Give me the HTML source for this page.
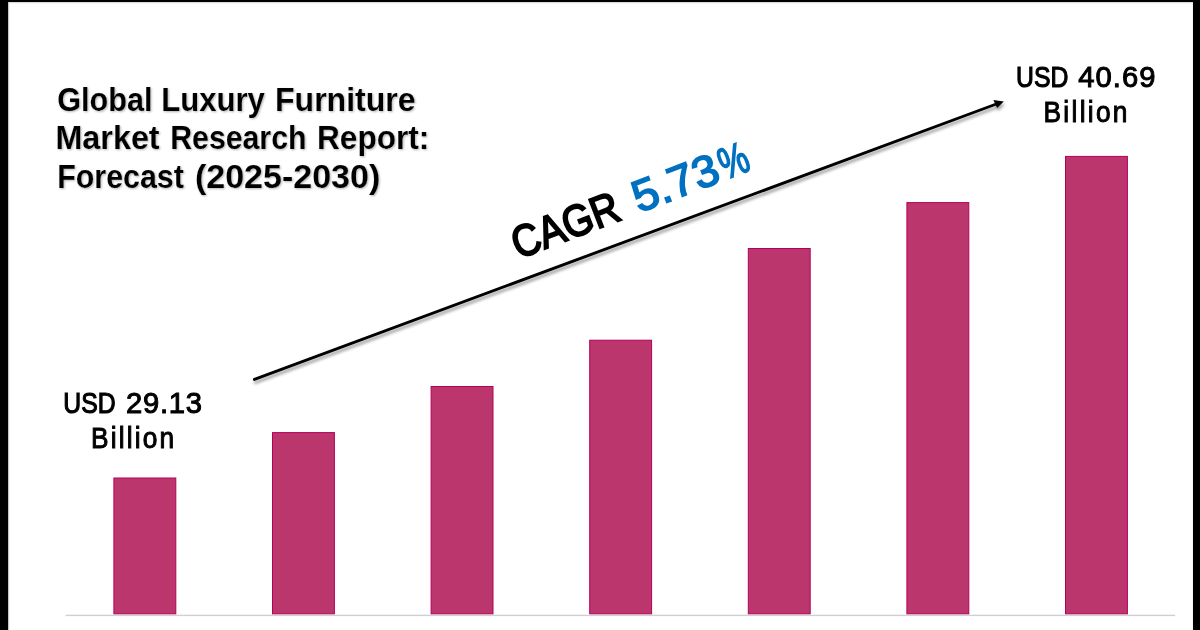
<!DOCTYPE html>
<html>
<head>
<meta charset="utf-8">
<style>
html,body{margin:0;padding:0;width:1200px;height:630px;overflow:hidden;background:#000;}
#page{position:absolute;left:8px;top:2px;width:1185px;height:628px;background:#fff;}
svg{position:absolute;left:0;top:0;}
text{font-family:"Liberation Sans",sans-serif;}
</style>
</head>
<body>
<div id="page"></div>
<svg width="1200" height="630" viewBox="0 0 1200 630">
<defs>
<filter id="sh" x="-5%" y="-20%" width="110%" height="140%">
<feGaussianBlur in="SourceAlpha" stdDeviation="1.6"/>
<feOffset dx="1.2" dy="2.6"/>
<feComponentTransfer><feFuncA type="linear" slope="0.38"/></feComponentTransfer>
<feMerge><feMergeNode/><feMergeNode in="SourceGraphic"/></feMerge>
</filter>
<filter id="tsh2" x="-5%" y="-20%" width="110%" height="140%">
<feGaussianBlur in="SourceAlpha" stdDeviation="0.8"/>
<feOffset dx="1" dy="1"/>
<feComponentTransfer><feFuncA type="linear" slope="0.3"/></feComponentTransfer>
</filter>
<filter id="nf"><feOffset dx="0" dy="0"/></filter>
</defs>
<rect x="8" y="2" width="1185" height="1" fill="#dadada"/>
<rect x="8" y="3" width="1185" height="1" fill="#f7f7f7"/>
<rect x="8" y="2" width="1" height="628" fill="#c6c6c6"/>
<rect x="9" y="3" width="1" height="627" fill="#f5f5f5"/>
<rect x="1192" y="3" width="1" height="627" fill="#f6f6f6"/>
<rect x="65.6" y="614.7" width="1109.6" height="1.4" fill="#d0d0d0"/>
<g fill="#bc366e" stroke="#b5005a" stroke-width="1">
<rect x="113.90" y="478.00" width="61.9" height="135.80"/>
<rect x="272.50" y="432.60" width="61.9" height="181.20"/>
<rect x="431.10" y="386.50" width="61.9" height="227.30"/>
<rect x="589.70" y="340.20" width="61.9" height="273.60"/>
<rect x="748.30" y="248.50" width="61.9" height="365.30"/>
<rect x="906.90" y="202.60" width="61.9" height="411.20"/>
<rect x="1065.50" y="156.40" width="61.9" height="457.40"/>
</g>
<g filter="url(#sh)">
<line x1="254.4" y1="379.4" x2="995" y2="104.5" stroke="#000" stroke-width="2.9" stroke-linecap="round"/>
<polygon points="1003.8,101.4 993.4,99.9 997.1,108.0" fill="#000"/>
</g>
<g font-weight="bold" font-size="33" fill="#000" filter="url(#tsh2)">
<text transform="translate(57.17,110.8) scale(0.9283,1)">Global</text>
<text transform="translate(161.22,110.8) scale(0.9417,1)">Luxury</text>
<text transform="translate(275.06,110.8) scale(0.9704,1)">Furniture</text>
<text transform="translate(55.44,149.2) scale(0.9798,1)">Market</text>
<text transform="translate(170.27,149.2) scale(0.9166,1)">Research</text>
<text transform="translate(317.09,149.2) scale(0.9554,1)">Report:</text>
<text transform="translate(57.26,187.6) scale(0.9200,1)">Forecast</text>
<text transform="translate(194.94,187.6) scale(1.0312,1)">(2025-2030)</text>
</g>
<g font-weight="bold" font-size="33" fill="#000" stroke="#fff" stroke-width="0.1" filter="url(#nf)">
<text transform="translate(57.17,110.8) scale(0.9283,1)">Global</text>
<text transform="translate(161.22,110.8) scale(0.9417,1)">Luxury</text>
<text transform="translate(275.06,110.8) scale(0.9704,1)">Furniture</text>
<text transform="translate(55.44,149.2) scale(0.9798,1)">Market</text>
<text transform="translate(170.27,149.2) scale(0.9166,1)">Research</text>
<text transform="translate(317.09,149.2) scale(0.9554,1)">Report:</text>
<text transform="translate(57.26,187.6) scale(0.9200,1)">Forecast</text>
<text transform="translate(194.94,187.6) scale(1.0312,1)">(2025-2030)</text>
</g>
<g font-size="29.2" fill="#000" stroke="#000" stroke-width="0.6" filter="url(#nf)">
<text transform="translate(63.31,412.8) scale(0.8475,1)" letter-spacing="0" stroke-width="1.15">USD</text>
<text transform="translate(125.90,412.8) scale(1.0000,1)" letter-spacing="0.775" stroke-width="1.0">29.13</text>
<text transform="translate(90.95,447.6) scale(0.9000,1)" letter-spacing="2.417" stroke-width="1.0">Billion</text>
<text transform="translate(1016.10,87.4) scale(0.8492,1)" letter-spacing="0" stroke-width="1.15">USD</text>
<text transform="translate(1078.20,87.4) scale(1.0000,1)" letter-spacing="1.05" stroke-width="1.0">40.69</text>
<text transform="translate(1043.50,122.0) scale(0.9000,1)" letter-spacing="2.574" stroke-width="1.0">Billion</text>
</g>
<g font-size="44.4" stroke-width="1.5" filter="url(#nf)">
<text transform="translate(518.40,259.35) rotate(-21) scale(0.8740,1)" fill="#000" stroke="#000" stroke-width="2.0">CAGR</text>
<text transform="translate(639.06,213.03) rotate(-21) scale(1.0345,1)" fill="#0070c0" stroke="#0070c0" stroke-width="1.7">5.73</text>
<text transform="translate(725.22,179.96) rotate(-21) scale(0.7395,1)" fill="#0070c0" stroke="#0070c0" stroke-width="1.7">%</text>
</g>
</svg>
</body>
</html>
